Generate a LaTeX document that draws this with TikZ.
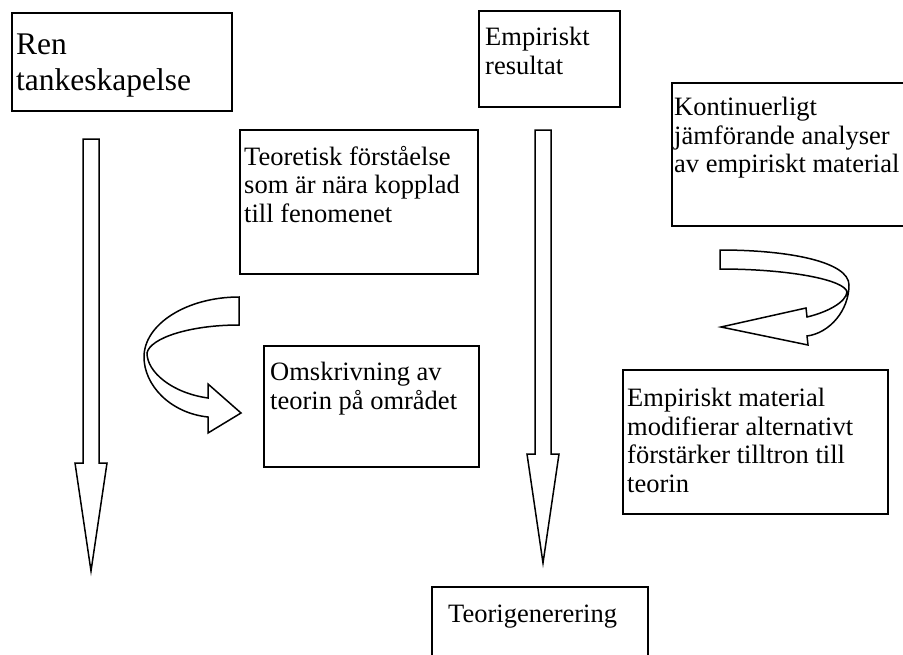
\documentclass[tikz,border=0pt]{standalone}
\usepackage{fontspec}
\setmainfont{Liberation Serif}
\usetikzlibrary{positioning}

\tikzset{
  box/.style={rectangle, draw, line width=1.5pt, anchor=north west, inner sep=0pt, outer sep=0pt},
  txt/.style={align=left, anchor=north west, inner sep=0pt, font=\fontsize{26.5}{28.5}\selectfont},
  bigtxt/.style={txt, font=\fontsize{31.5}{36}\selectfont},
  blockarrow/.style={draw, line width=1.5pt, line join=miter, fill=white},
}

\begin{document}
\begin{tikzpicture}[x=1pt, y=-1pt]
    \useasboundingbox (0,0) rectangle (903,654);
    \clip (0,0) rectangle (903,654);

    % boxes
    \node (ren) [box, minimum width=220pt, minimum height=98pt] at (12,13) {};
    \node (empres) [box, minimum width=141pt, minimum height=96pt] at (479,11) {};
    \node (teoforst) [box, minimum width=238pt, minimum height=144pt] at (240,130) {};
    \node (kontin) [box, minimum width=260pt, minimum height=143pt] at (672,83) {};
    \node (omskriv) [box, minimum width=215pt, minimum height=121pt] at (264,346) {};
    \node (empmat) [box, minimum width=265pt, minimum height=144pt] at (623,370) {};
    \node (teogen) [box, minimum width=216pt, minimum height=100pt] at (432,587) {};

    % texts
    \node (rentxt) [bigtxt, below right=21pt and 4pt of ren.north west] {Ren\\tankeskapelse};
    \node (emprestxt) [txt, below right=16pt and 6pt of empres.north west] {Empiriskt\\resultat};
    \node (teoforsttxt) [txt, below right=16pt and 4pt of teoforst.north west] {Teoretisk förståelse\\som är nära kopplad\\till fenomenet};
    \node (kontintxt) [txt, below right=14pt and 2pt of kontin.north west] {Kontinuerligt\\jämförande analyser\\av empiriskt material};
    \node (omskrivtxt) [txt, below right=16pt and 6pt of omskriv.north west] {Omskrivning av\\teorin på området};
    \node (empmattxt) [txt, below right=18pt and 4pt of empmat.north west] {Empiriskt material\\modifierar alternativt\\förstärker tilltron till\\teorin};
    \node (teogentxt) [txt, below right=18pt and 16pt of teogen.north west] {Teorigenerering};

    % long arrows
    \draw [blockarrow] (83,139) -- (99,139) -- (99,463) -- (107,463) -- (91,571)
        -- (75,463) -- (83,463) -- cycle;
    \draw [blockarrow] (535,130) -- (551,130) -- (551,454) -- (559,454) -- (543,563)
        -- (527,454) -- (535,454) -- cycle;

    % curved arrows
    \draw [blockarrow] (239,297) .. controls (187,297) and (144,324) .. (144,357)
        .. controls (144,385) and (170,413) .. (208,417)
        -- (208,433) -- (241,413) -- (208,384) -- (208,398)
        .. controls (172,393) and (147,372) .. (147,353)
        .. controls (150,338) and (190,325) .. (239,325) -- cycle;
    \draw [blockarrow] (720,250) .. controls (790,250) and (849,262) .. (849,285)
        .. controls (849,310) and (830,333) .. (807,336)
        -- (808,345) -- (721,327) -- (806,308) -- (807,317)
        .. controls (828,312) and (846,302) .. (847,292)
        .. controls (845,280) and (790,269) .. (720,269) -- cycle;
\end{tikzpicture}
\end{document}
